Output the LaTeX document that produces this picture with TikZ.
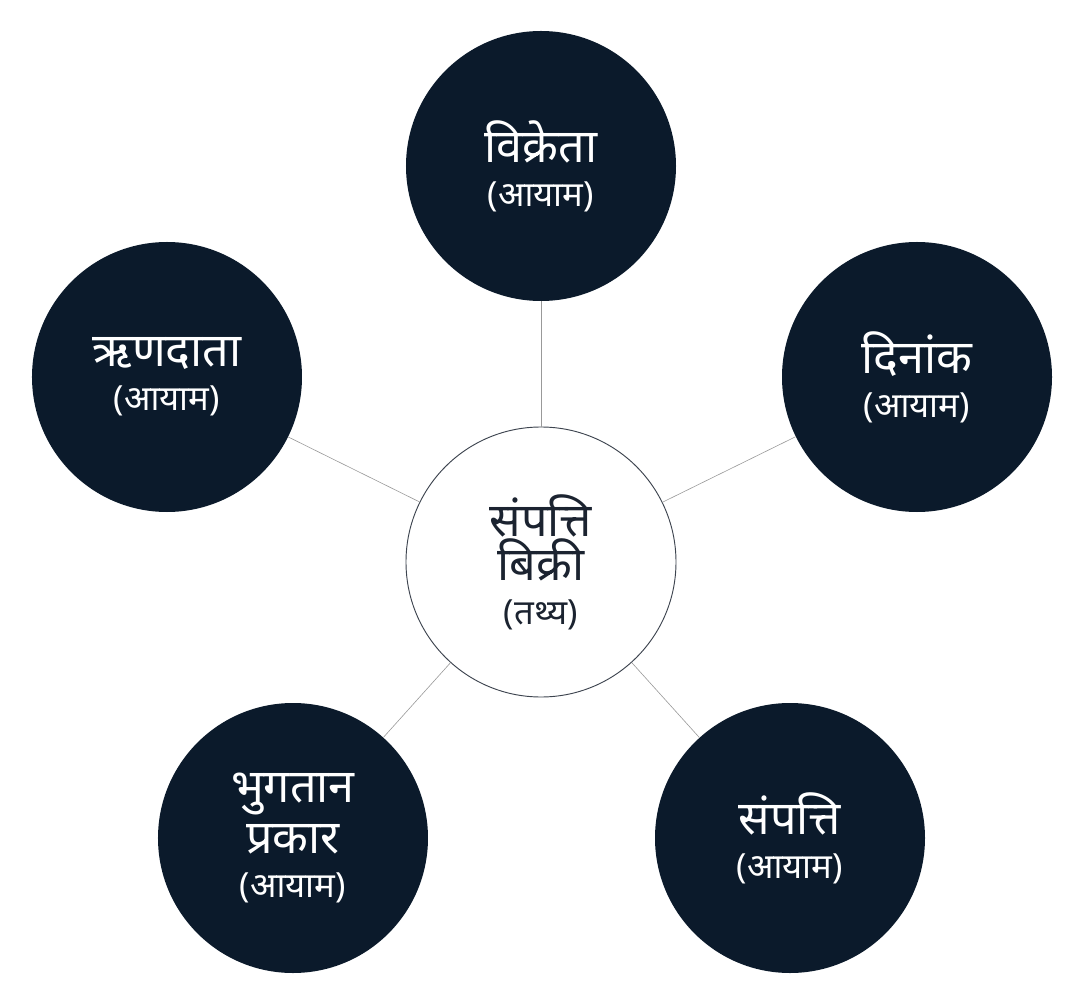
\documentclass[tikz,border=0pt]{standalone}
\usepackage{fontspec}
\newfontfamily\deva[Script=Devanagari]{Noto Sans}
\usetikzlibrary{positioning}
\definecolor{navy}{HTML}{0B1A2B}
\definecolor{ink}{HTML}{1B2330}
\tikzstyle{dim}=[circle, fill=navy, text=white,
    font=\deva\fontsize{35}{33}\selectfont,
    align=center, inner sep=0pt, minimum size=202.5pt]
\tikzstyle{fact}=[circle, draw=ink!85, line width=0.7pt, fill=white,
    text=ink, font=\deva\fontsize{35}{33}\selectfont,
    align=center, inner sep=0pt, minimum size=202.5pt]
\tikzstyle{link}=[draw=gray!80, line width=0.45pt]
\newcommand{\tagf}{\fontsize{26}{33}\selectfont}

\begin{document}
\begin{tikzpicture}[x=0.75pt,y=0.75pt]
    \useasboundingbox (-541,-430) rectangle (543,562);
    \node (sale) [fact] {संपत्ति\\बिक्री\\\tagf (तथ्य)};
    \path (sale)+(0,396) node (seller) [dim] {विक्रेता\\\tagf (आयाम)};
    \path (sale)+(-374,185) node (lender) [dim] {ऋणदाता\\\tagf (आयाम)};
    \path (sale)+(376,185) node (date) [dim] {दिनांक\\\tagf (आयाम)};
    \path (sale)+(-248,-276) node (payment) [dim] {भुगतान\\[5pt]प्रकार\\\tagf (आयाम)};
    \path (sale)+(249,-276) node (asset) [dim] {संपत्ति\\\tagf (आयाम)};
    \draw[link] (sale) -- (seller);
    \draw[link] (sale) -- (lender);
    \draw[link] (sale) -- (date);
    \draw[link] (sale) -- (payment);
    \draw[link] (sale) -- (asset);
\end{tikzpicture}
\end{document}
